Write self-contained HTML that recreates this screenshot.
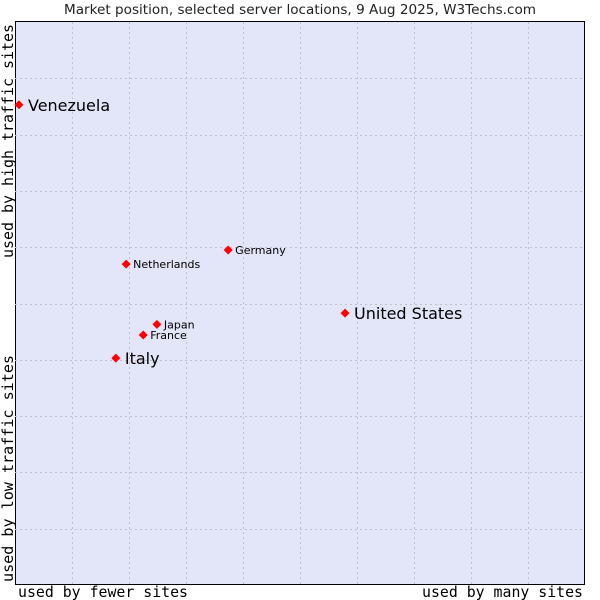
<!DOCTYPE html>
<html><head><meta charset="utf-8"><style>
html,body{margin:0;padding:0;background:#fff;}
svg{display:block;}
</style></head><body>
<svg id="chart" width="600" height="600" viewBox="0 0 600 600" xmlns="http://www.w3.org/2000/svg">
<text x="64" y="14" textLength="472" lengthAdjust="spacingAndGlyphs" font-family="DejaVu Sans, sans-serif" font-size="13" fill="#222">Market position, selected server locations, 9 Aug 2025, W3Techs.com</text>
<rect x="15.5" y="21.5" width="569" height="563" fill="#e3e5f8" stroke="#000" stroke-width="1"/>
<g id="grid"></g>
<g id="points"></g>
<text x="18" y="597" textLength="170" lengthAdjust="spacingAndGlyphs" font-family="DejaVu Sans Mono, monospace" font-size="15" fill="#000">used by fewer sites</text>
<text x="422" y="597" textLength="161" lengthAdjust="spacingAndGlyphs" font-family="DejaVu Sans Mono, monospace" font-size="15" fill="#000">used by many sites</text>
<text transform="translate(13,258) rotate(-90)" textLength="234" lengthAdjust="spacingAndGlyphs" font-family="DejaVu Sans Mono, monospace" font-size="15" fill="#000">used by high traffic sites</text>
<text transform="translate(13,582) rotate(-90)" textLength="227" lengthAdjust="spacingAndGlyphs" font-family="DejaVu Sans Mono, monospace" font-size="15" fill="#000">used by low traffic sites</text>
</svg>
<script>
const names = ["Venezuela","United States","Italy","Germany","Netherlands","Japan","France"];
const xValues = [0.07, 5.79, 1.77, 3.74, 1.95, 2.49, 2.25];
const yValues = [8.53, 4.83, 4.03, 5.95, 5.70, 4.63, 4.44];
const bigLabel = [true, true, true, false, false, false, false];
const NS = "http://www.w3.org/2000/svg";
const L = 15, R = 585, T = 22, B = 585;
function sx(v){ return L + v * (R - L) / 10; }
function sy(v){ return B - v * (B - T) / 10; }
const grid = document.getElementById('grid');
for (let i = 1; i < 10; i++) {
  const v = document.createElementNS(NS, 'line');
  
  
  const x = Math.round(sx(i)) + 0.5;
  v.setAttribute('x1', x); v.setAttribute('x2', x);
  v.setAttribute('y1', T); v.setAttribute('y2', B);
  v.setAttribute('stroke', '#c0c0c8'); v.setAttribute('stroke-dasharray', '2,3');
  grid.appendChild(v);
  const h = document.createElementNS(NS, 'line');
  
  
  const y = Math.round(sy(i)) + 0.5;
  h.setAttribute('x1', L); h.setAttribute('x2', R);
  h.setAttribute('y1', y); h.setAttribute('y2', y);
  h.setAttribute('stroke', '#c0c0c8'); h.setAttribute('stroke-dasharray', '2,3');
  grid.appendChild(h);
}
const pts = document.getElementById('points');
names.forEach((n, i) => {
  const x = sx(xValues[i]), y = sy(yValues[i]);
  const d = document.createElementNS(NS, 'polygon');
  
  
  d.setAttribute('points', `${x},${y-4.5} ${x+4.5},${y} ${x},${y+4.5} ${x-4.5},${y}`);
  d.setAttribute('fill', '#ff0000');
  pts.appendChild(d);
  const t = document.createElementNS(NS, 'text');
  
  
  t.setAttribute('x', x + (bigLabel[i] ? 9 : 7));
  t.setAttribute('y', y + (bigLabel[i] ? 6 : 4));
  t.setAttribute('font-family', 'DejaVu Sans, sans-serif');
  t.setAttribute('font-size', bigLabel[i] ? '16' : '11');
  t.setAttribute('fill', '#000');
  t.textContent = n;
  pts.appendChild(t);
});
</script>
</body></html>
